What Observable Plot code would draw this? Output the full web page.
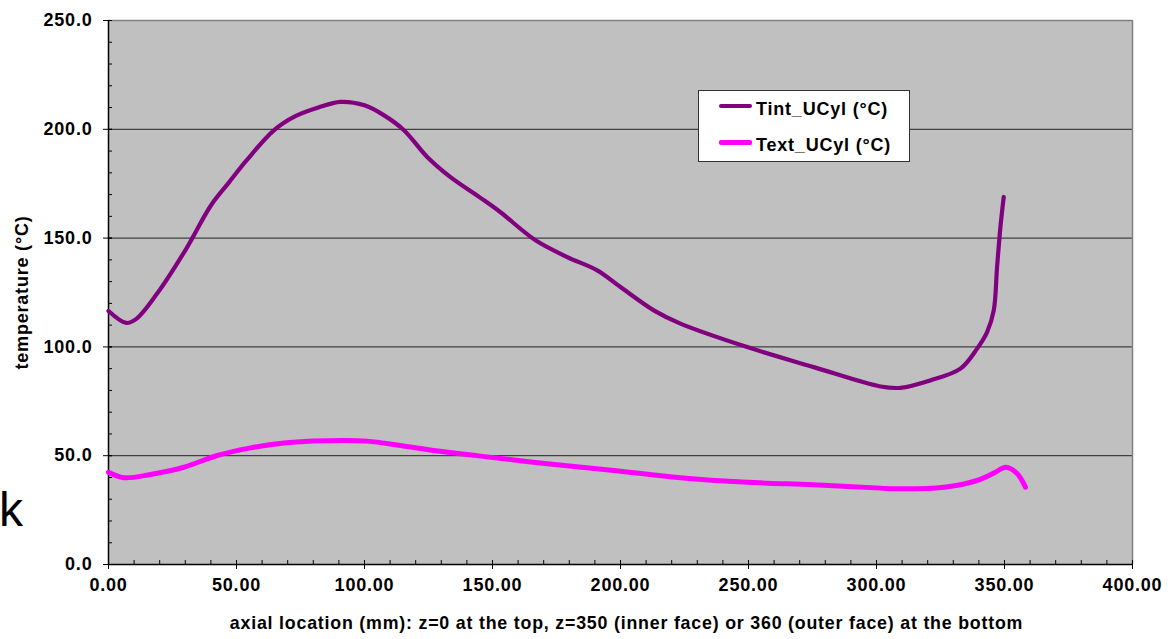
<!DOCTYPE html>
<html><head><meta charset="utf-8">
<script src="https://cdn.jsdelivr.net/npm/d3@7"></script>
<script src="https://cdn.jsdelivr.net/npm/@observablehq/plot@0.6"></script>
<style>
html,body{margin:0;padding:0;background:#fff;}
#wrap{position:relative;width:1170px;height:639px;font-family:"Liberation Sans",Arial,sans-serif;}
#wrap svg{position:absolute;left:0;top:0;}
.abs{position:absolute;white-space:nowrap;line-height:1;}
#stray{left:-1px;top:486px;font-size:48px;color:#000;}
#legend{left:698px;top:90px;width:212px;height:72px;background:#fff;border:1px solid #333;box-sizing:border-box;}
.sw{height:4px;border-radius:2px;width:33px;left:719px;}
.lt{left:756px;font-size:18px;font-weight:bold;color:#000;letter-spacing:0.8px;}
</style>
</head><body>
<div id="wrap"></div>
<script>
// Data
const tintZ = [0, 7, 11, 19, 30, 40, 47, 54, 64.6, 73, 82, 90.6, 100, 107.5, 115.4, 124.5, 133.6, 145.3, 153, 166.8, 179.2, 190.9, 200, 213, 223.4, 249.5, 275.5, 301.6, 309.4, 321, 332.8, 339.3, 343.2, 345.8, 347.1, 348.4, 349.7];
const tintT = [116.5, 111, 113, 124.5, 144.4, 165, 175.5, 185.8, 199.5, 206, 210, 212.6, 211, 206.5, 199.6, 187.3, 178, 168.5, 162, 149, 141.3, 135.2, 127.5, 116.8, 110.7, 99.9, 90.7, 81.8, 81.2, 84.6, 90, 99.2, 106.8, 116.8, 136.7, 155, 168.9];
const textZ = [0, 6, 16.4, 29.4, 42.5, 55.5, 68.5, 80, 91.9, 101, 114, 127, 145.3, 171.4, 197.4, 223.4, 249.5, 275.5, 301.6, 306.8, 326.3, 339.3, 345.8, 350.6, 355, 358.2];
const textT = [42.4, 39.9, 41.4, 44.7, 50.1, 53.6, 55.8, 56.7, 57, 56.7, 54.7, 52.4, 49.8, 46.3, 43.2, 39.9, 37.8, 36.6, 35.1, 34.8, 35.5, 38.6, 42, 44.7, 41.7, 35.5];

const seriesNames = ["Tint_UCyl (°C)", "Text_UCyl (°C)"];
const seriesColors = ["#800080", "#ff00ff"];
const xTicks = [0, 50, 100, 150, 200, 250, 300, 350, 400];
const yTicks = [0, 50, 100, 150, 200, 250];
const xMinorTicks = d3.range(0, 401, 10);
const yMinorTicks = d3.range(0, 251, 10);
const gridY = [50, 100, 150, 200];
const xTitle = "axial location (mm): z=0 at the top, z=350 (inner face) or 360 (outer face) at the bottom";
const yTitle = "temperature (°C)";
const strayText = "k";

const tint = tintZ.map((z, i) => ({z, t: tintT[i]}));
const text = textZ.map((z, i) => ({z, t: textT[i]}));

const W = 1170, H = 639, mT = 20, mB = 75, mL = 108, mR = 38;
const pw = W - mL - mR, ph = H - mT - mB;

const chart = Plot.plot({
  width: W, height: H,
  marginTop: mT, marginBottom: mB, marginLeft: mL, marginRight: mR,
  x: {domain: [0, 400]},
  y: {domain: [0, 250]},
  style: {fontFamily: "'Liberation Sans', Arial, sans-serif", fontSize: "18px", fontWeight: "bold", background: "transparent", color: "#000", letterSpacing: "0.8px"},
  marks: [
    Plot.frame({fill: "#c0c0c0", stroke: null}),
    Plot.ruleY(gridY, {stroke: "#222", strokeWidth: 1}),
    Plot.ruleY([250], {stroke: "#808080", strokeWidth: 1.5}),
    Plot.ruleX([400], {stroke: "#808080", strokeWidth: 1.5}),
    Plot.ruleX([0], {stroke: "#000", strokeWidth: 1.5}),
    Plot.ruleY([0], {stroke: "#000", strokeWidth: 1.5}),
    // minor ticks inside
    Plot.tickX(xMinorTicks, {x: d => d, insetTop: ph - 4, stroke: "#000"}),
    Plot.tickY(yMinorTicks, {y: d => d, insetRight: pw - 4, stroke: "#000"}),
    // major ticks crossing the axes
    Plot.tickX(xTicks, {x: d => d, insetTop: ph - 4, insetBottom: -5, stroke: "#000"}),
    Plot.tickY(yTicks, {y: d => d, insetRight: pw - 4, insetLeft: -5, stroke: "#000"}),
    Plot.line(tint, {x: "z", y: "t", stroke: seriesColors[0], strokeWidth: 4.2, curve: "catmull-rom", strokeLinecap: "round", strokeLinejoin: "round"}),
    Plot.line(text, {x: "z", y: "t", stroke: seriesColors[1], strokeWidth: 5, curve: "catmull-rom", strokeLinecap: "round", strokeLinejoin: "round"}),
    Plot.axisX({ticks: xTicks, tickSize: 0, tickPadding: 14, tickFormat: d => d.toFixed(2), label: null}),
    Plot.axisY({ticks: yTicks, tickSize: 0, tickPadding: 16, tickFormat: d => d.toFixed(1), label: null}),
    Plot.text([xTitle], {text: d => d, frameAnchor: "bottom", textAnchor: "middle", dx: 6, dy: 64, fontSize: 17.8, fontWeight: "bold"}),
    Plot.text([yTitle], {text: d => d, frameAnchor: "left", textAnchor: "middle", dx: -86, rotate: -90, fontSize: 18, fontWeight: "bold"})
  ]
});

const wrap = document.getElementById("wrap");
wrap.appendChild(chart);

function addDiv(cls, id, txt, css) {
  const d = document.createElement("div");
  d.className = "abs " + cls;
  if (id) d.id = id;
  if (txt != null) d.textContent = txt;
  Object.assign(d.style, css || {});
  wrap.appendChild(d);
  return d;
}
addDiv("", "legend", null);
addDiv("sw", null, null, {top: "104px", background: seriesColors[0]});
addDiv("sw", null, null, {top: "140px", background: seriesColors[1], height: "5px"});
addDiv("lt", null, seriesNames[0], {top: "100px"});
addDiv("lt", null, seriesNames[1], {top: "136px"});
addDiv("", "stray", strayText);
</script>
</body></html>
